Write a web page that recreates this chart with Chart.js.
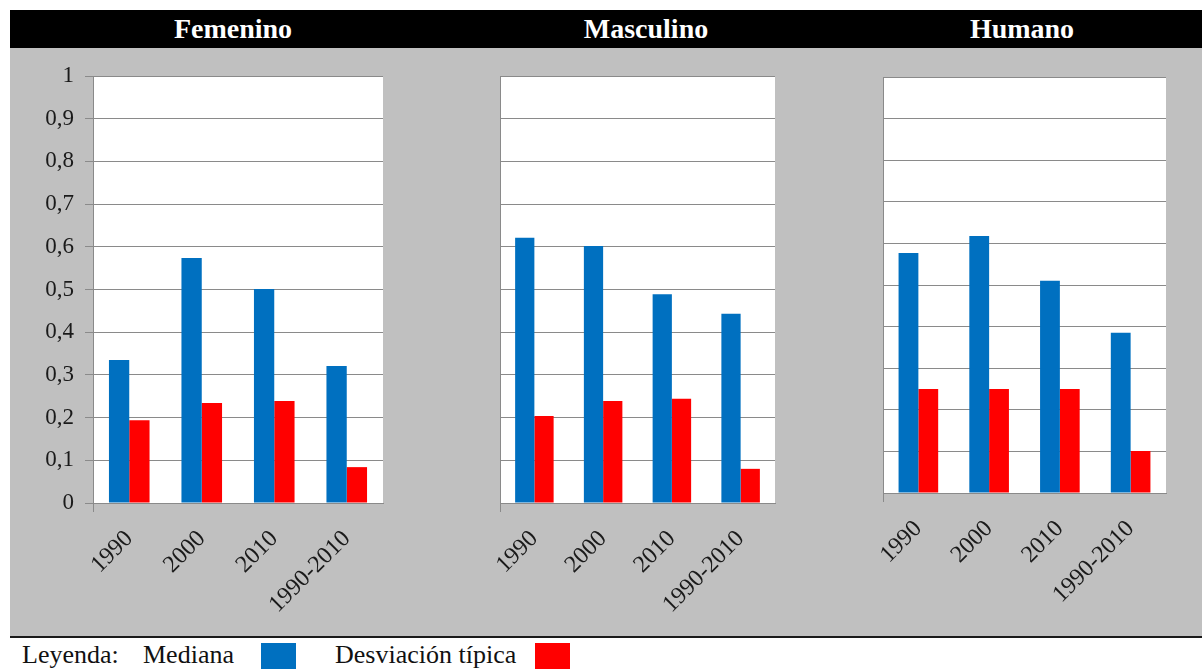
<!DOCTYPE html>
<html>
<head>
<meta charset="utf-8">
<script src="https://cdn.jsdelivr.net/npm/chart.js@4.4.1/dist/chart.umd.min.js"></script>
<style>
  body { margin: 0; background: #fff; font-family: 'Liberation Serif', 'Times New Roman', serif; }
  #wrap { position: relative; width: 1202px; height: 669px; overflow: hidden; }
  .header { position: absolute; left: 10px; top: 10px; width: 1192px; height: 38px; background: #000; }
  .title { position: absolute; top: 10px; height: 38px; line-height: 38px; color: #fff; font-weight: bold; font-size: 28px; transform: translateX(-50%); white-space: nowrap; }
  .panel { position: absolute; left: 10px; top: 48px; width: 1192px; height: 588px; background: #c0c0c0; border-bottom: 2px solid #1a1a1a; }
  canvas { position: absolute; top: 48px; }
  .leg { position: absolute; top: 642px; font-size: 26px; line-height: 26px; color: #111; white-space: nowrap; }
  .sw { position: absolute; top: 643px; width: 35px; height: 27px; }
</style>
</head>
<body>
<div id="wrap">
  <div class="header"></div>
  <div class="panel"></div>
  <div class="title" style="left:233px">Femenino</div>
  <div class="title" style="left:646px">Masculino</div>
  <div class="title" style="left:1022px">Humano</div>

  <canvas id="fem" width="400" height="587" style="left:10px"></canvas>
  <canvas id="masc" width="390" height="587" style="left:410px"></canvas>
  <canvas id="hum" width="402" height="587" style="left:800px"></canvas>

  <div class="leg" style="left:22px">Leyenda:</div>
  <div class="leg" style="left:143px">Mediana</div>
  <div class="sw" style="left:261px;background:#0070c0"></div>
  <div class="leg" style="left:335px">Desviación típica</div>
  <div class="sw" style="left:535px;background:#ff0000"></div>
</div>

<script>
const categories = ['1990', '2000', '2010', '1990-2010'];
const yTickLabels = ['0', '0,1', '0,2', '0,3', '0,4', '0,5', '0,6', '0,7', '0,8', '0,9', '1'];

const femMediana = [0.335, 0.574, 0.501, 0.321];
const femDesv = [0.194, 0.234, 0.239, 0.084];

const mascMediana = [0.621, 0.602, 0.489, 0.443];
const mascDesv = [0.204, 0.239, 0.244, 0.080];

const humMediana = [0.577, 0.618, 0.510, 0.385];
const humDesv = [0.250, 0.250, 0.250, 0.101];

const BLUE = '#0070c0';
const RED = '#ff0000';
const GRID = '#8a8a8a';
const TEXT = '#1a1a1a';

// white plot area on top of the grey panel
const plotBg = {
  id: 'plotBg',
  beforeDraw(chart) {
    const { ctx, chartArea: a } = chart;
    ctx.save();
    ctx.fillStyle = '#fff';
    ctx.fillRect(a.left, a.top, a.right - a.left, a.bottom - a.top);
    ctx.restore();
  }
};

const makePanel = (id, mediana, desv, o) => {
  const ctx = document.getElementById(id).getContext('2d');
  return new Chart(ctx, {
    type: 'bar',
    data: {
      labels: categories,
      datasets: [
        { label: 'Mediana', data: mediana, backgroundColor: BLUE },
        { label: 'Desviación típica', data: desv, backgroundColor: RED }
      ]
    },
    options: {
      responsive: false,
      animation: false,
      layout: { padding: { top: o.top, right: o.right, left: 0, bottom: 0 } },
      datasets: { bar: { categoryPercentage: 0.56, barPercentage: 1 } },
      plugins: { legend: { display: false }, tooltip: { enabled: false } },
      scales: {
        x: {
          afterFit: s => { s.height = o.xHeight; },
          grid: {
            drawOnChartArea: false,
            tickLength: 9,
            color: c => (c.index === 0 ? GRID : 'rgba(0,0,0,0)')
          },
          border: { display: true, color: GRID },
          ticks: {
            autoSkip: false,
            minRotation: 45,
            maxRotation: 45,
            padding: 13,
            color: TEXT,
            font: { family: "'Liberation Serif', serif", size: 24 }
          }
        },
        y: {
          min: 0,
          max: 1,
          afterFit: s => { s.width = o.yWidth; },
          grid: { color: GRID, drawTicks: o.showY, tickLength: 8 },
          border: { display: true, color: GRID },
          ticks: {
            display: o.showY,
            stepSize: 0.1,
            padding: 11,
            color: TEXT,
            font: { family: "'Liberation Serif', serif", size: 23 },
            callback: (v, i) => yTickLabels[i]
          }
        }
      }
    },
    plugins: [plotBg]
  });
};

makePanel('fem', femMediana, femDesv, { top: 28, right: 27, xHeight: 132, yWidth: 83, showY: true });
makePanel('masc', mascMediana, mascDesv, { top: 28, right: 25, xHeight: 132, yWidth: 90, showY: false });
makePanel('hum', humMediana, humDesv, { top: 29, right: 36, xHeight: 142, yWidth: 83, showY: false });
</script>
</body>
</html>
